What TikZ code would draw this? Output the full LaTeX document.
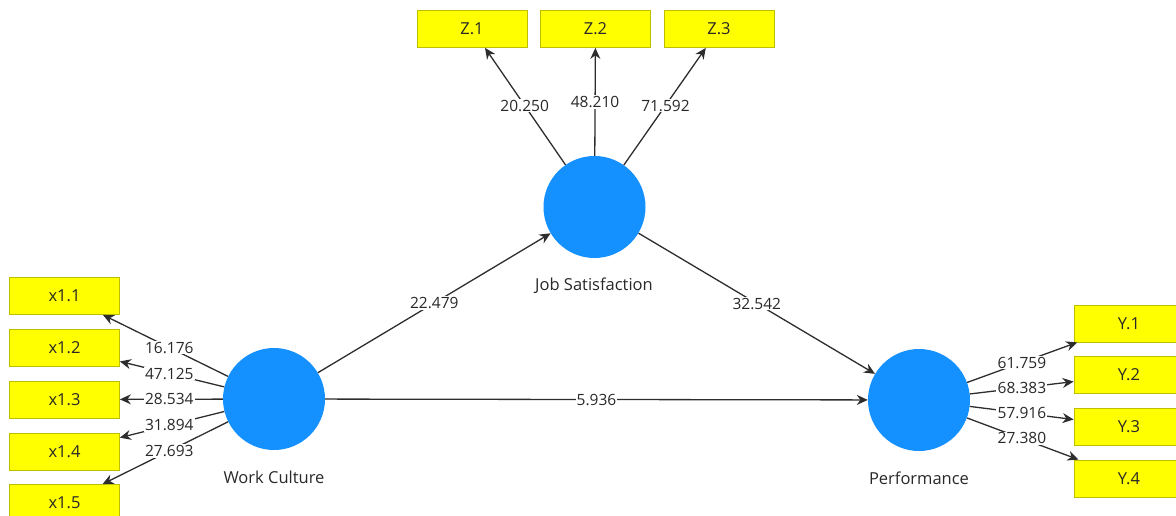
\documentclass[tikz,border=0pt]{standalone}
\usepackage{fontspec}
\setmainfont{Open Sans}
\usetikzlibrary{arrows.meta,calc}
\definecolor{lvblue}{RGB}{20,144,255}
\definecolor{indy}{RGB}{255,255,0}
\definecolor{indb}{RGB}{190,190,0}
\definecolor{ln}{RGB}{45,45,45}
\definecolor{tx}{RGB}{40,40,40}
\tikzset{
  lv/.style={circle,fill=lvblue,minimum size=102pt,inner sep=0pt},
  lvlab/.style={inner sep=0pt,text=tx,font=\fontsize{16.5}{19}\selectfont},
  ind/.style={rectangle,fill=indy,draw=indb,line width=0.8pt,minimum width=110pt,minimum height=37pt,inner sep=0pt,text=tx,font=\fontsize{16.5}{19}\selectfont},
  conn/.style={draw=ln,line width=1.3pt,-{Stealth[length=11pt,width=10pt]}},
  wt/.style={fill=white,inner sep=1.2pt,text=tx,font=\fontsize{15.5}{18}\selectfont}
}
\begin{document}
\begin{tikzpicture}[x=1pt,y=-1pt]
\useasboundingbox (0,0) rectangle (1176,516);
\clip (0,0) rectangle (1176,516);
% latent variables
\node[lv] (wc) at (274,399) {};
\node[lv] (js) at (594.5,207) {};
\node[lv] (pf) at (919,400) {};
\node[lvlab] (wcl) at (274,477) {Work Culture};
\node[lvlab] (jsl) at (594,286) {Job Satisfaction};
\node[lvlab] (pfl) at (919,478) {Performance};
% indicators
\node[ind] (x1) at (64.5,296) {x1.1};
\node[ind] (x2) at (64.5,348) {x1.2};
\node[ind] (x3) at (64.5,399.5) {x1.3};
\node[ind] (x4) at (64.5,451.5) {x1.4};
\node[ind] (x5) at (64.5,503) {x1.5};
\node[ind] (z1) at (472,29) {Z.1};
\node[ind] (z2) at (595.5,29) {Z.2};
\node[ind] (z3) at (719,29) {Z.3};
\node[ind] (y1) at (1129,323.5) {Y.1};
\node[ind] (y2) at (1129,375) {Y.2};
\node[ind] (y3) at (1129,426.5) {Y.3};
\node[ind] (y4) at (1129,478.5) {Y.4};
% connectors
\foreach \t in {x1,x2,x3,x4,x5}{\draw[conn] (wc) -- (\t);}
\foreach \t in {z1,z2,z3}{\draw[conn] (js) -- (\t);}
\foreach \t in {y1,y2,y3,y4}{\draw[conn] (pf) -- (\t);}
\draw[conn] (wc) -- (js);
\draw[conn] (js) -- (pf);
\draw[conn] (wc) -- (pf);
% weights
\node[wt] (lx1) at ($(wc)!0.5!(x1)$) {16.176};
\node[wt] (lx2) at ($(wc)!0.5!(x2)$) {47.125};
\node[wt] (lx3) at ($(wc)!0.5!(x3)$) {28.534};
\node[wt] (lx4) at ($(wc)!0.5!(x4)$) {31.894};
\node[wt] (lx5) at ($(wc)!0.5!(x5)$) {27.693};
\node[wt] (lz1) at ($(js)!0.57!(z1)$) {20.250};
\node[wt] (lz2) at ($(js)!0.59!(z2)$) {48.210};
\node[wt] (lz3) at ($(js)!0.57!(z3)$) {71.592};
\node[wt] (ly1) at ($(pf)!0.49!(y1)$) {61.759};
\node[wt] (ly2) at ($(pf)!0.49!(y2)$) {68.383};
\node[wt] (ly3) at ($(pf)!0.49!(y3)$) {57.916};
\node[wt] (ly4) at ($(pf)!0.49!(y4)$) {27.380};
\node[wt] (lws) at ($(wc)!0.5!(js)$) {22.479};
\node[wt] (lsp) at ($(js)!0.5!(pf)$) {32.542};
\node[wt] (lwp) at ($(wc)!0.5!(pf)$) {5.936};
\end{tikzpicture}
\end{document}
